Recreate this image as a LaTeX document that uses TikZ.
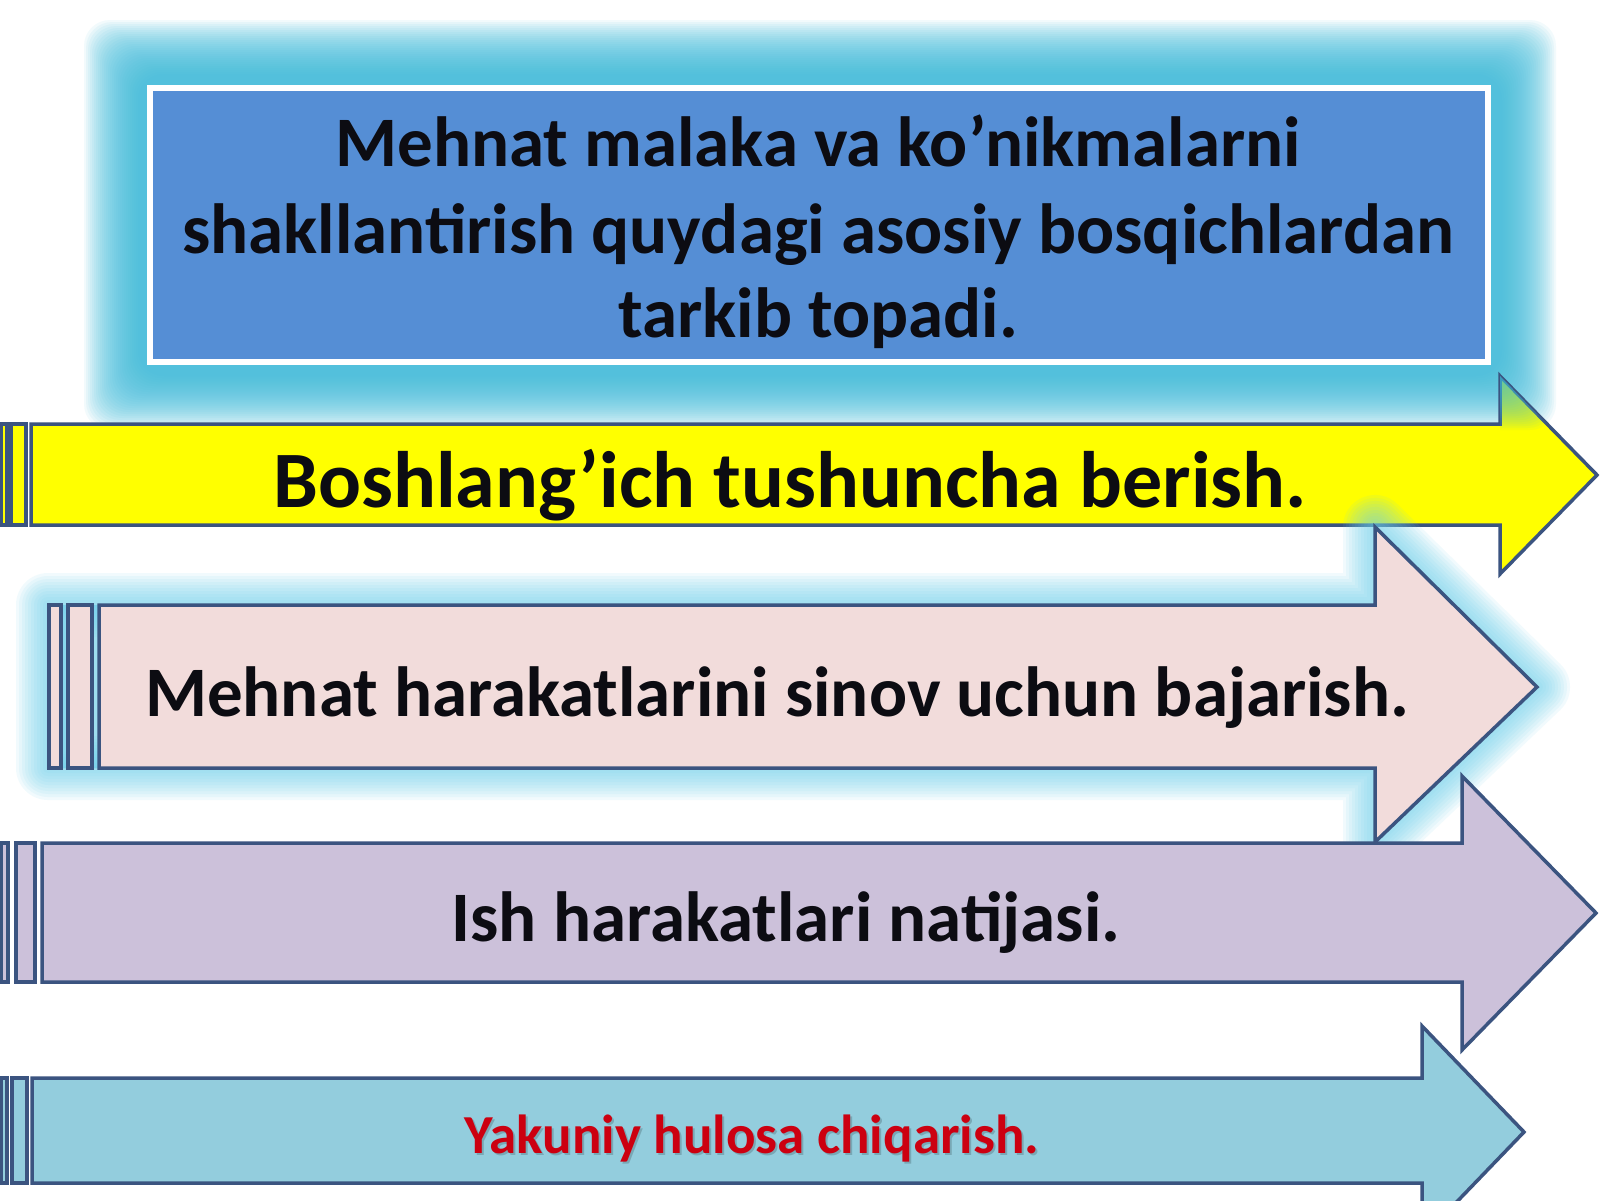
\documentclass[tikz,border=0pt]{standalone}
\usepackage{fontspec}
\setmainfont{Carlito}
\definecolor{boxblue}{RGB}{85,142,213}
\definecolor{glowcyan}{RGB}{60,188,220}
\definecolor{pinkglow}{RGB}{110,210,236}
\definecolor{edge}{RGB}{59,84,128}
\definecolor{ylw}{RGB}{255,255,0}
\definecolor{pinkf}{RGB}{242,220,219}
\definecolor{purplef}{RGB}{204,193,218}
\definecolor{tealf}{RGB}{147,205,221}
\definecolor{redtxt}{RGB}{204,0,16}
\definecolor{txt}{RGB}{12,12,18}
\tikzset{
  arrowshape/.style={draw=edge, line width=3.5pt, line join=miter},
  lbl/.style={anchor=base, inner sep=0pt, text=txt, font=\bfseries\fontsize{71pt}{85pt}\selectfont},
}
\begin{document}
\begin{tikzpicture}[x=1pt,y=-1pt]
\useasboundingbox (0,0) rectangle (1600,1200);
\fill[white] (0,0) rectangle (1600,1200);

% glow behind the top box
\foreach \i in {0,...,27}{
  \fill[glowcyan, opacity=0.065, rounded corners=26pt] (84+2*\i, 20+2*\i) rectangle (1556-2*\i, 430-2*\i);
}
\node (topbox) [draw=white, line width=6pt, fill=boxblue, minimum width=1338pt, minimum height=274pt, inner sep=0pt] at (819,225) {};
\node (t1) [lbl] at (818,166) {Mehnat malaka va ko’nikmalarni};
\node (t2) [lbl] at (818,253) {shakllantirish quydagi asosiy bosqichlardan};
\node (t3) [lbl] at (818,337) {tarkib topadi.};

% yellow arrow
\draw[arrowshape, fill=ylw] (1,424) rectangle (7,525);
\draw[arrowshape, fill=ylw] (11,424) rectangle (26,525);
\draw[arrowshape, fill=ylw] (31,424) -- (1500,424) -- (1500,376) -- (1597,475) -- (1500,574) -- (1500,525) -- (31,525) -- cycle;
\begin{scope}
  \clip (1500,376) -- (1597,475) -- (1500,475) -- cycle;
  \foreach \i in {0,...,27}{
    \fill[glowcyan, opacity=0.055, rounded corners=26pt] (84+2*\i, 20+2*\i) rectangle (1556-2*\i, 430-2*\i);
  }
\end{scope}
\node (a1) [lbl, font=\bfseries\fontsize{80pt}{96pt}\selectfont] at (790,507) {Boshlang’ich tushuncha berish.};

% pink arrow with glow
\foreach \w in {64,58,...,4}{
  \draw[pinkglow, opacity=0.09, line width=\w pt, line join=round, fill=pinkglow, fill opacity=0.09]
    (48,605) -- (1375,605) -- (1375,527) -- (1538,687) -- (1375,842) -- (1375,768) -- (48,768) -- cycle;
}
\draw[arrowshape, fill=pinkf] (49,605) rectangle (61,768);
\draw[arrowshape, fill=pinkf] (68,605) rectangle (92,768);
\draw[arrowshape, fill=pinkf] (99,605) -- (1375,605) -- (1375,527) -- (1537,687) -- (1375,842) -- (1375,768) -- (99,768) -- cycle;
\node (a2) [lbl] at (777,716) {Mehnat harakatlarini sinov uchun bajarish.};

% purple arrow
\draw[arrowshape, fill=purplef] (1,843) rectangle (8,982);
\draw[arrowshape, fill=purplef] (16,843) rectangle (35,982);
\draw[arrowshape, fill=purplef] (42,843) -- (1462,843) -- (1462,776) -- (1596,913) -- (1462,1050) -- (1462,982) -- (42,982) -- cycle;
\node (a3) [lbl] at (786,941) {Ish harakatlari natijasi.};

% teal arrow
\draw[arrowshape, fill=tealf] (1,1078) rectangle (7,1183);
\draw[arrowshape, fill=tealf] (12,1078) rectangle (27,1183);
\draw[arrowshape, fill=tealf] (32,1078) -- (1422,1078) -- (1422,1026) -- (1524,1132) -- (1422,1238) -- (1422,1183) -- (32,1183) -- cycle;
\node (a4s) [lbl, text=black, opacity=0.18, font=\bfseries\fontsize{55pt}{66pt}\selectfont] at (754,1155) {Yakuniy hulosa chiqarish.};
\node (a4) [lbl, text=redtxt, font=\bfseries\fontsize{55pt}{66pt}\selectfont] at (752,1153) {Yakuniy hulosa chiqarish.};
\end{tikzpicture}
\end{document}
